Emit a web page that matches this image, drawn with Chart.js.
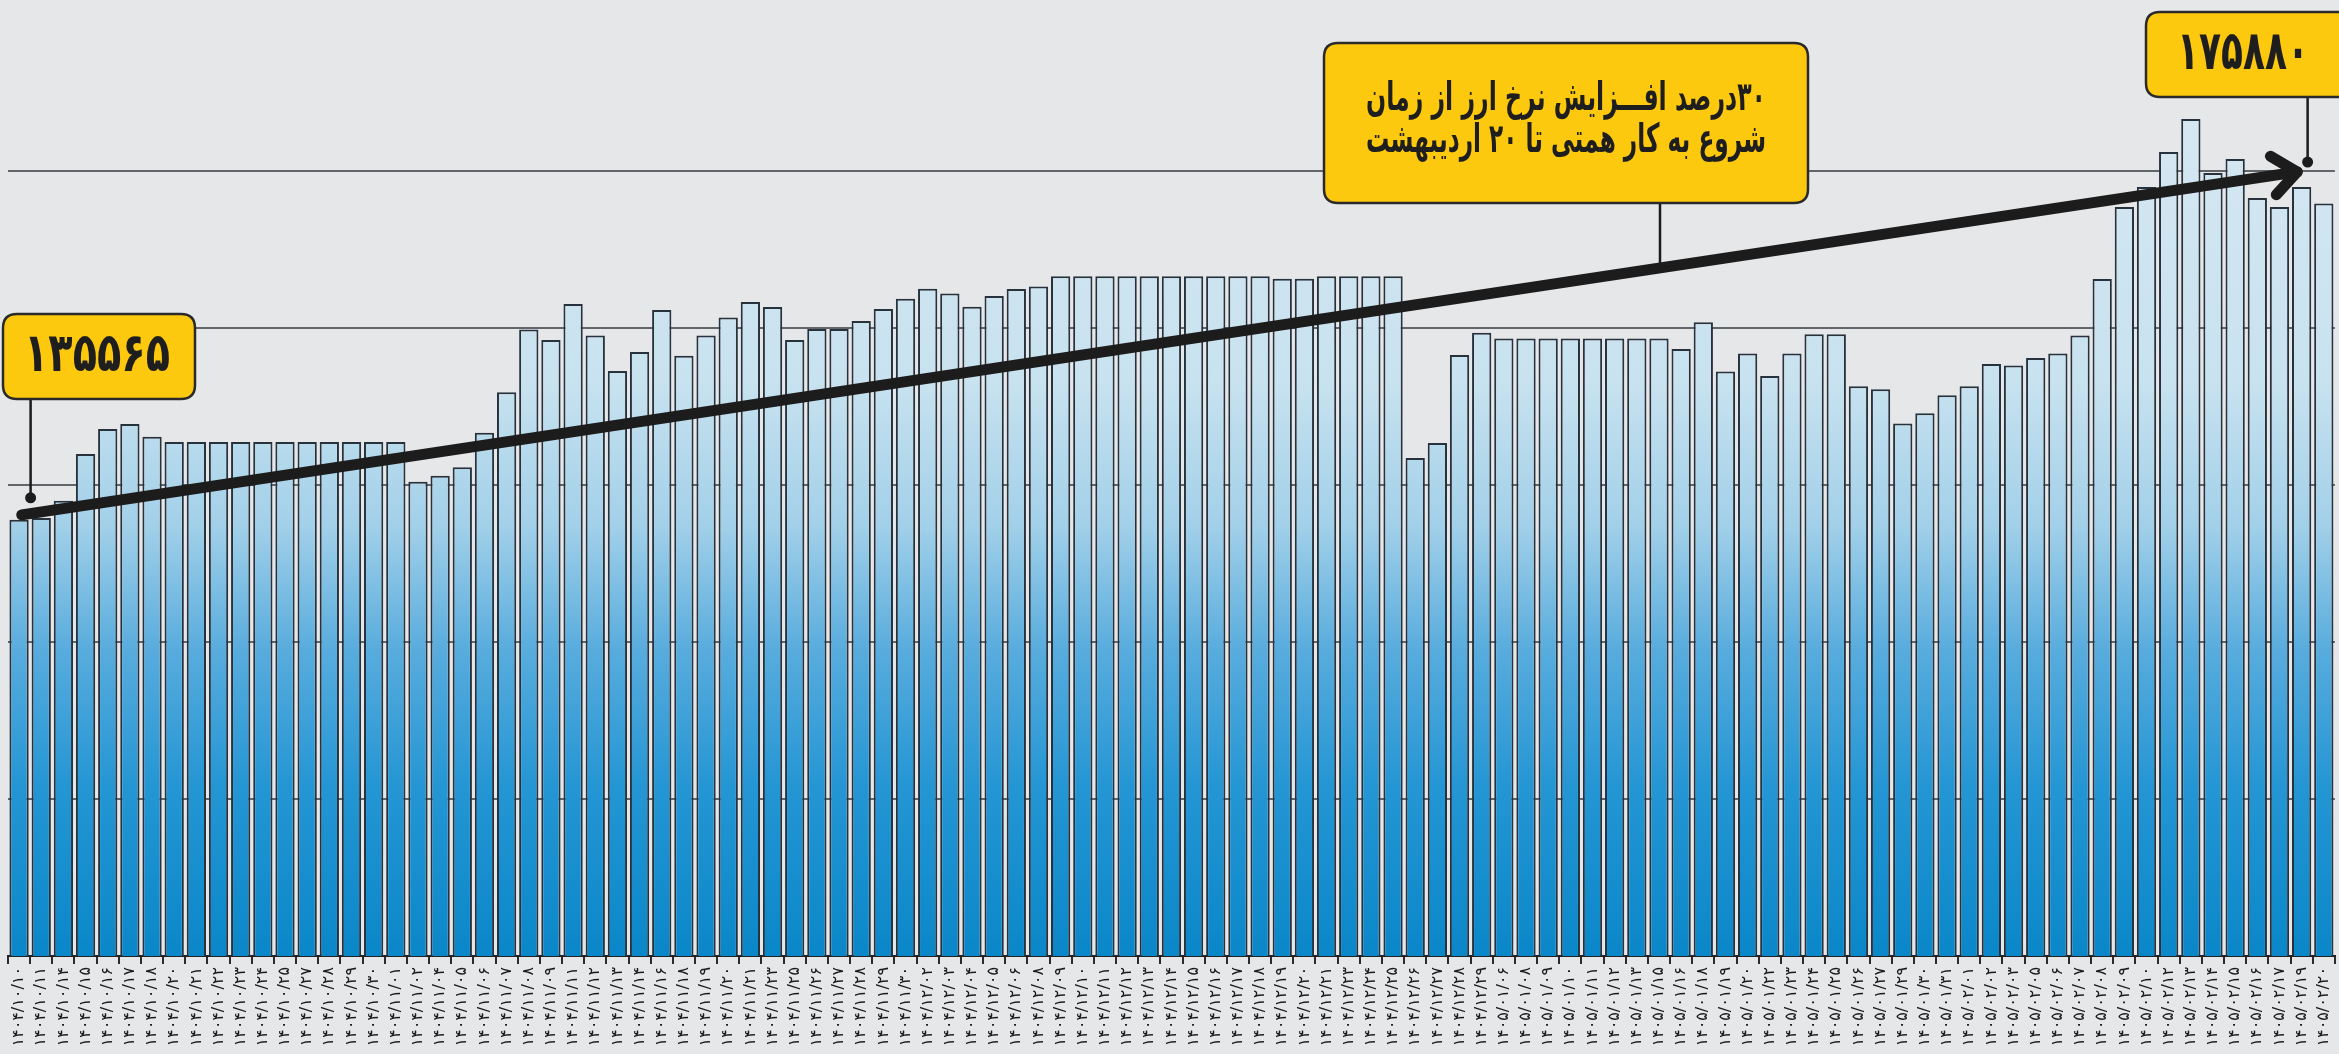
<!DOCTYPE html>
<html lang="fa">
<head>
<meta charset="utf-8">
<script src="https://cdn.jsdelivr.net/npm/chart.js"></script>
<style>
  html, body { margin: 0; padding: 0; background: #e6e7e9; overflow: hidden; width: 2339px; height: 1054px; }
  canvas { display: block; }
</style>
</head>
<body>
<canvas id="c" width="2346" height="1054"></canvas>
<script>
// ---- data ----
const categories = [
'۱۴۰۴/۱۰/۱۰','۱۴۰۴/۱۰/۱۱','۱۴۰۴/۱۰/۱۴','۱۴۰۴/۱۰/۱۵','۱۴۰۴/۱۰/۱۶','۱۴۰۴/۱۰/۱۷','۱۴۰۴/۱۰/۱۸','۱۴۰۴/۱۰/۲۰','۱۴۰۴/۱۰/۲۱','۱۴۰۴/۱۰/۲۲',
'۱۴۰۴/۱۰/۲۳','۱۴۰۴/۱۰/۲۴','۱۴۰۴/۱۰/۲۵','۱۴۰۴/۱۰/۲۷','۱۴۰۴/۱۰/۲۸','۱۴۰۴/۱۰/۲۹','۱۴۰۴/۱۰/۳۰','۱۴۰۴/۱۱/۰۱','۱۴۰۴/۱۱/۰۲','۱۴۰۴/۱۱/۰۴',
'۱۴۰۴/۱۱/۰۵','۱۴۰۴/۱۱/۰۶','۱۴۰۴/۱۱/۰۷','۱۴۰۴/۱۱/۰۸','۱۴۰۴/۱۱/۰۹','۱۴۰۴/۱۱/۱۱','۱۴۰۴/۱۱/۱۲','۱۴۰۴/۱۱/۱۳','۱۴۰۴/۱۱/۱۴','۱۴۰۴/۱۱/۱۶',
'۱۴۰۴/۱۱/۱۸','۱۴۰۴/۱۱/۱۹','۱۴۰۴/۱۱/۲۰','۱۴۰۴/۱۱/۲۱','۱۴۰۴/۱۱/۲۳','۱۴۰۴/۱۱/۲۵','۱۴۰۴/۱۱/۲۶','۱۴۰۴/۱۱/۲۷','۱۴۰۴/۱۱/۲۸','۱۴۰۴/۱۱/۲۹',
'۱۴۰۴/۱۱/۳۰','۱۴۰۴/۱۲/۰۲','۱۴۰۴/۱۲/۰۳','۱۴۰۴/۱۲/۰۴','۱۴۰۴/۱۲/۰۵','۱۴۰۴/۱۲/۰۶','۱۴۰۴/۱۲/۰۸','۱۴۰۴/۱۲/۰۹','۱۴۰۴/۱۲/۱۰','۱۴۰۴/۱۲/۱۱',
'۱۴۰۴/۱۲/۱۲','۱۴۰۴/۱۲/۱۳','۱۴۰۴/۱۲/۱۴','۱۴۰۴/۱۲/۱۵','۱۴۰۴/۱۲/۱۶','۱۴۰۴/۱۲/۱۷','۱۴۰۴/۱۲/۱۸','۱۴۰۴/۱۲/۱۹','۱۴۰۴/۱۲/۲۰','۱۴۰۴/۱۲/۲۱',
'۱۴۰۴/۱۲/۲۳','۱۴۰۴/۱۲/۲۴','۱۴۰۴/۱۲/۲۵','۱۴۰۴/۱۲/۲۶','۱۴۰۴/۱۲/۲۷','۱۴۰۴/۱۲/۲۸','۱۴۰۴/۱۲/۲۹','۱۴۰۵/۰۱/۰۶','۱۴۰۵/۰۱/۰۸','۱۴۰۵/۰۱/۰۹',
'۱۴۰۵/۰۱/۱۰','۱۴۰۵/۰۱/۱۱','۱۴۰۵/۰۱/۱۲','۱۴۰۵/۰۱/۱۳','۱۴۰۵/۰۱/۱۵','۱۴۰۵/۰۱/۱۶','۱۴۰۵/۰۱/۱۸','۱۴۰۵/۰۱/۱۹','۱۴۰۵/۰۱/۲۰','۱۴۰۵/۰۱/۲۲',
'۱۴۰۵/۰۱/۲۳','۱۴۰۵/۰۱/۲۴','۱۴۰۵/۰۱/۲۵','۱۴۰۵/۰۱/۲۶','۱۴۰۵/۰۱/۲۷','۱۴۰۵/۰۱/۲۹','۱۴۰۵/۰۱/۳۰','۱۴۰۵/۰۱/۳۱','۱۴۰۵/۰۲/۰۱','۱۴۰۵/۰۲/۰۲',
'۱۴۰۵/۰۲/۰۳','۱۴۰۵/۰۲/۰۵','۱۴۰۵/۰۲/۰۶','۱۴۰۵/۰۲/۰۷','۱۴۰۵/۰۲/۰۸','۱۴۰۵/۰۲/۰۹','۱۴۰۵/۰۲/۱۰','۱۴۰۵/۰۲/۱۲','۱۴۰۵/۰۲/۱۳','۱۴۰۵/۰۲/۱۴',
'۱۴۰۵/۰۲/۱۵','۱۴۰۵/۰۲/۱۶','۱۴۰۵/۰۲/۱۷','۱۴۰۵/۰۲/۱۹','۱۴۰۵/۰۲/۲۰'
];

const rates = [
135565, 135800, 138000, 143950, 147135, 147770, 146150, 145500, 145500, 145500,
145500, 145500, 145500, 145500, 145500, 145500, 145500, 145500, 140420, 141185,
142255, 146665, 151810, 159835, 158470, 163060, 159070, 154520, 156940, 162290,
156470, 159070, 161360, 163310, 162680, 158470, 159870, 159870, 160890, 162420,
163730, 165010, 164420, 162710, 164080, 164970, 165310, 166590, 166590, 166590,
166590, 166590, 166590, 166590, 166590, 166590, 166590, 166300, 166300, 166590,
166590, 166590, 166590, 143440, 145360, 156570, 159420, 158660, 158660, 158660,
158660, 158660, 158660, 158660, 158660, 157330, 160750, 154480, 156760, 153910,
156760, 159230, 159230, 152580, 152200, 147830, 149160, 151440, 152580, 155430,
155240, 156190, 156760, 159040, 166260, 175415, 177960, 182420, 186625, 179750,
181530, 176560, 175415, 177960, 175880
];

const yGridValues = [80000, 100000, 120000, 140000, 160000, 180000];
const yMin = 80000;
const yMax = 201800;

// trend arrow (category index, value)
const trendStart = [0.12, 136200];
const trendEnd = [102.8, 179900];
// callout anchor dots (category index, value)
const firstDot = [0.52, 138380];
const lastDot = [103.27, 181150];

const noteText = ['۳۰درصد افـــزایش نرخ ارز از زمان', 'شروع به کار همتی تا ۲۰ اردیبهشت'];

const faDigits = '۰۱۲۳۴۵۶۷۸۹';
const toFa = s => String(s).replace(/[0-9]/g, d => faDigits[+d]);

// ---- drawing helpers ----
function roundRect(c, x, y, w, h, r) {
  c.beginPath();
  c.moveTo(x + r, y);
  c.lineTo(x + w - r, y);
  c.quadraticCurveTo(x + w, y, x + w, y + r);
  c.lineTo(x + w, y + h - r);
  c.quadraticCurveTo(x + w, y + h, x + w - r, y + h);
  c.lineTo(x + r, y + h);
  c.quadraticCurveTo(x, y + h, x, y + h - r);
  c.lineTo(x, y + r);
  c.quadraticCurveTo(x, y, x + r, y);
  c.closePath();
}
function drawBox(c, x, y, w, h) {
  roundRect(c, x, y, w, h, 14);
  c.fillStyle = '#fdc90e';
  c.fill();
  c.lineWidth = 2.5;
  c.strokeStyle = '#2a2a2a';
  c.stroke();
}
// draw text centred at (x,y), squeezed horizontally to a target width
function fitText(c, text, x, y, targetW) {
  const w = c.measureText(text).width;
  const k = Math.min(1, targetW / w);
  c.save();
  c.translate(x, y);
  c.scale(k, 1);
  c.fillText(text, 0, 0);
  c.restore();
}

const notesPlugin = {
  id: 'notes',
  afterDatasetsDraw(chart) {
    const c = chart.ctx;
    const xs = chart.scales.x, ys = chart.scales.y;
    const px = p => [xs.getPixelForValue(p[0]), ys.getPixelForValue(p[1])];
    const [x0, y0] = px(trendStart);
    const [x1, y1] = px(trendEnd);
    const [d1x, d1y] = px(firstDot);
    const [d2x, d2y] = px(lastDot);
    c.save();
    c.strokeStyle = '#1c1c1c';
    c.fillStyle = '#1c1c1c';

    // connectors
    c.lineWidth = 2.5;
    c.beginPath();
    c.moveTo(d1x, d1y); c.lineTo(d1x, 399);
    c.moveTo(d2x, d2y); c.lineTo(d2x, 97);
    const cx = 1660;
    const cy = y0 + (y1 - y0) * (cx - x0) / (x1 - x0);
    c.moveTo(cx, 203); c.lineTo(cx, cy);
    c.stroke();

    // trend arrow
    c.lineCap = 'round';
    c.lineJoin = 'round';
    c.lineWidth = 11;
    c.beginPath();
    c.moveTo(x0, y0); c.lineTo(x1, y1);
    c.stroke();
    const ang = Math.atan2(y1 - y0, x1 - x0);
    const L = 31, spread = 0.68;
    c.beginPath();
    c.moveTo(x1 - L * Math.cos(ang - spread), y1 - L * Math.sin(ang - spread));
    c.lineTo(x1, y1);
    c.lineTo(x1 - L * Math.cos(ang + spread), y1 - L * Math.sin(ang + spread));
    c.stroke();

    // dots
    c.beginPath(); c.arc(d1x, d1y, 5.5, 0, Math.PI * 2); c.fill();
    c.beginPath(); c.arc(d2x, d2y, 5.5, 0, Math.PI * 2); c.fill();

    // boxes
    drawBox(c, 3, 314, 192, 85);
    drawBox(c, 2146, 12, 210, 85);
    drawBox(c, 1324, 43, 484, 160);

    c.fillStyle = '#1e1e1e';
    c.textBaseline = 'middle';
    c.textAlign = 'center';
    c.font = 'bold 54px "DejaVu Sans"';
    fitText(c, toFa(rates[0]), 97, 357, 146);
    fitText(c, toFa(rates[rates.length - 1]), 2243, 55, 132);

    c.direction = 'rtl';
    c.font = 'bold 40px "DejaVu Sans"';
    fitText(c, noteText[0], 1566, 100, 400);
    fitText(c, noteText[1], 1566, 142, 400);
    c.restore();
  }
};

const ctx = document.getElementById('c').getContext('2d');
new Chart(ctx, {
  type: 'bar',
  data: {
    labels: categories,
    datasets: [{
      data: rates,
      backgroundColor(context) {
        const chart = context.chart;
        const a = chart.chartArea;
        if (!a) return '#5fb2df';
        const g = chart.ctx.createLinearGradient(0, a.top, 0, a.bottom);
        g.addColorStop(0, '#dbeaf3');
        g.addColorStop(0.40, '#c8e2ef');
        g.addColorStop(0.55, '#a2d0e9');
        g.addColorStop(0.68, '#58acdd');
        g.addColorStop(0.82, '#2596d4');
        g.addColorStop(1, '#0a87c9');
        return g;
      },
      borderColor: '#27323d',
      borderWidth: 2,
      borderSkipped: 'bottom',
      categoryPercentage: 1,
      barPercentage: 0.87
    }]
  },
  options: {
    responsive: false,
    devicePixelRatio: 1,
    animation: false,
    layout: { padding: { left: 8, right: 0, top: 0, bottom: 0 } },
    plugins: { legend: { display: false }, tooltip: { enabled: false } },
    scales: {
      x: {
        offset: true,
        grid: { display: true, drawOnChartArea: false, drawTicks: true, tickLength: 8, color: '#2b2b2b', lineWidth: 2, offset: true },
        border: { display: true, color: '#222', width: 2 },
        ticks: {
          autoSkip: false, maxRotation: 90, minRotation: 90, padding: 3,
          color: '#1b1b1b',
          font: { family: 'DejaVu Sans', size: 16, weight: 'normal' }
        },
        afterFit(s) { s.height = 98; }
      },
      y: {
        min: yMin, max: yMax,
        ticks: { display: false },
        border: { display: false },
        grid: { color: '#62666b', lineWidth: 2, drawTicks: false },
        afterBuildTicks(axis) { axis.ticks = yGridValues.map(v => ({ value: v })); },
        afterFit(s) { s.width = 0; }
      }
    }
  },
  plugins: [notesPlugin]
});
</script>
</body>
</html>
